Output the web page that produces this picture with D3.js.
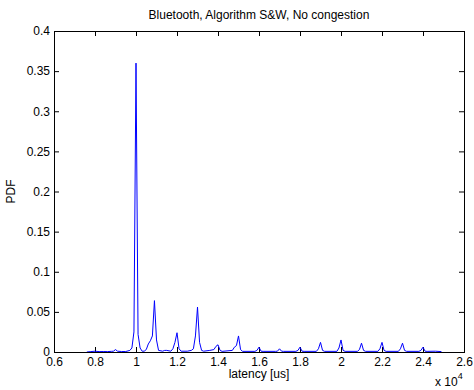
<!DOCTYPE html>
<html>
<head>
<meta charset="utf-8">
<script src="https://d3js.org/d3.v7.min.js"></script>
<style>
  body { margin: 0; background: #fff; }
  text { font-family: "Liberation Sans", Arial, sans-serif; }
</style>
</head>
<body>
<div id="chart"></div>
<script>
// latency in us, pdf value
var latency = [7600, 7800, 8000, 8200, 8400, 8600, 8800, 8900, 9000, 9100, 9300, 9500, 9700, 9800, 9900,
  10000, 10100, 10200, 10300, 10400, 10500, 10600, 10700, 10800, 10900, 11000, 11100, 11300, 11400, 11500,
  11700, 11800, 11900, 12000, 12100, 12200, 12500, 12700, 12800, 12900, 13000, 13100, 13200, 13300, 13600,
  13800, 13900, 14000, 14100, 14200, 14700, 14800, 14900, 15000, 15100, 15200, 15800, 15900, 16000, 16100,
  16200, 16800, 16900, 17000, 17100, 17200, 17800, 17900, 18000, 18100, 18200, 18800, 18900, 19000, 19100,
  19200, 19800, 19900, 20000, 20100, 20200, 20800, 20900, 21000, 21100, 21200, 21800, 21900, 22000, 22100,
  22200, 22800, 22900, 23000, 23100, 23200, 23800, 23900, 24000, 24100, 24200, 24600, 24900];
var pdf = [0, 0.0005, 0.001, 0.0005, 0.0006, 0.0005, 0.0008, 0.001, 0.003, 0.001, 0.0006, 0.0006, 0.002, 0.005, 0.025,
  0.36, 0.022, 0.005, 0.001, 0.001, 0.003, 0.01, 0.014, 0.02, 0.064, 0.015, 0.002, 0.001, 0.002, 0.002,
  0.001, 0.004, 0.012, 0.024, 0.004, 0.001, 0.001, 0.002, 0.004, 0.02, 0.056, 0.012, 0.002, 0.001, 0.002,
  0.003, 0.007, 0.009, 0.002, 0.0008, 0.002, 0.006, 0.008, 0.02, 0.003, 0.0008, 0.0008, 0.002, 0.006, 0.001,
  0.0008, 0.0008, 0.001, 0.004, 0.001, 0.0008, 0.0008, 0.002, 0.006, 0.001, 0.0008, 0.0008, 0.004, 0.012, 0.002,
  0.0008, 0.0008, 0.005, 0.015, 0.002, 0.0008, 0.0008, 0.003, 0.011, 0.002, 0.0008, 0.0008, 0.004, 0.012, 0.002,
  0.0008, 0.0008, 0.004, 0.011, 0.002, 0.0008, 0.0008, 0.002, 0.006, 0.001, 0.0008, 0.001, 0.0005];

var xTicks = [0.6, 0.8, 1, 1.2, 1.4, 1.6, 1.8, 2, 2.2, 2.4, 2.6];
var yTicks = [0, 0.05, 0.1, 0.15, 0.2, 0.25, 0.3, 0.35, 0.4];

var svgWidth = 474;
var svgHeight = 390;
var margin = { top: 31, right: 10, bottom: 38, left: 54 };
var width = svgWidth - margin.left - margin.right;
var height = svgHeight - margin.top - margin.bottom;

var svg = d3.select("#chart").append("svg")
    .attr("width", svgWidth)
    .attr("height", svgHeight);

var chartGroup = svg.append("g")
    .attr("transform", `translate(${margin.left}, ${margin.top})`);

// x axis in units of 10^4 us
var xScale = d3.scaleLinear().domain([0.6, 2.6]).range([0, width]);
var yScale = d3.scaleLinear().domain([0, 0.4]).range([height, 0]);

var fmt = d3.format("~g");

function styleAxis(g) {
  g.select(".domain").remove();
  g.selectAll(".tick line").attr("stroke", "#000");
  g.selectAll("text").attr("font-size", 12).attr("fill", "#000");
}

chartGroup.append("g")
    .attr("transform", `translate(0, ${height})`)
    .call(d3.axisBottom(xScale).tickValues(xTicks).tickFormat(fmt).tickSizeInner(-5).tickSizeOuter(0).tickPadding(5))
    .call(styleAxis);

chartGroup.append("g")
    .call(d3.axisTop(xScale).tickValues(xTicks).tickFormat("").tickSizeInner(-5).tickSizeOuter(0))
    .call(styleAxis);

chartGroup.append("g")
    .call(d3.axisLeft(yScale).tickValues(yTicks).tickFormat(fmt).tickSizeInner(-5).tickSizeOuter(0).tickPadding(4))
    .call(styleAxis);

chartGroup.append("g")
    .attr("transform", `translate(${width}, 0)`)
    .call(d3.axisRight(yScale).tickValues(yTicks).tickFormat("").tickSizeInner(-5).tickSizeOuter(0))
    .call(styleAxis);

// the curve
var points = latency.map((d, i) => [d / 1e4, pdf[i]]);
var line = d3.line().x(d => xScale(d[0])).y(d => yScale(d[1]));

chartGroup.append("path")
    .datum(points)
    .attr("fill", "none")
    .attr("stroke", "#0000ff")
    .attr("stroke-width", 1)
    .attr("d", line);

// box
chartGroup.append("rect")
    .attr("width", width)
    .attr("height", height)
    .attr("fill", "none")
    .attr("stroke", "#000")
    .attr("stroke-width", 1)
    .attr("shape-rendering", "crispEdges");

// labels
chartGroup.append("text")
    .attr("x", width / 2).attr("y", -12)
    .attr("text-anchor", "middle").attr("font-size", 12)
    .text("Bluetooth, Algorithm S&W, No congestion");

chartGroup.append("text")
    .attr("x", width / 2).attr("y", height + 26)
    .attr("text-anchor", "middle").attr("font-size", 12)
    .text("latency [us]");

chartGroup.append("text")
    .attr("transform", `translate(-39, ${height / 2}) rotate(-90)`)
    .attr("text-anchor", "middle").attr("font-size", 12)
    .text("PDF");

var exp = svg.append("text")
    .attr("x", 435).attr("y", 386).attr("font-size", 12);
exp.append("tspan").text("x 10");
exp.append("tspan").attr("dy", -7).attr("font-size", 9).text("4");
</script>
</body>
</html>
